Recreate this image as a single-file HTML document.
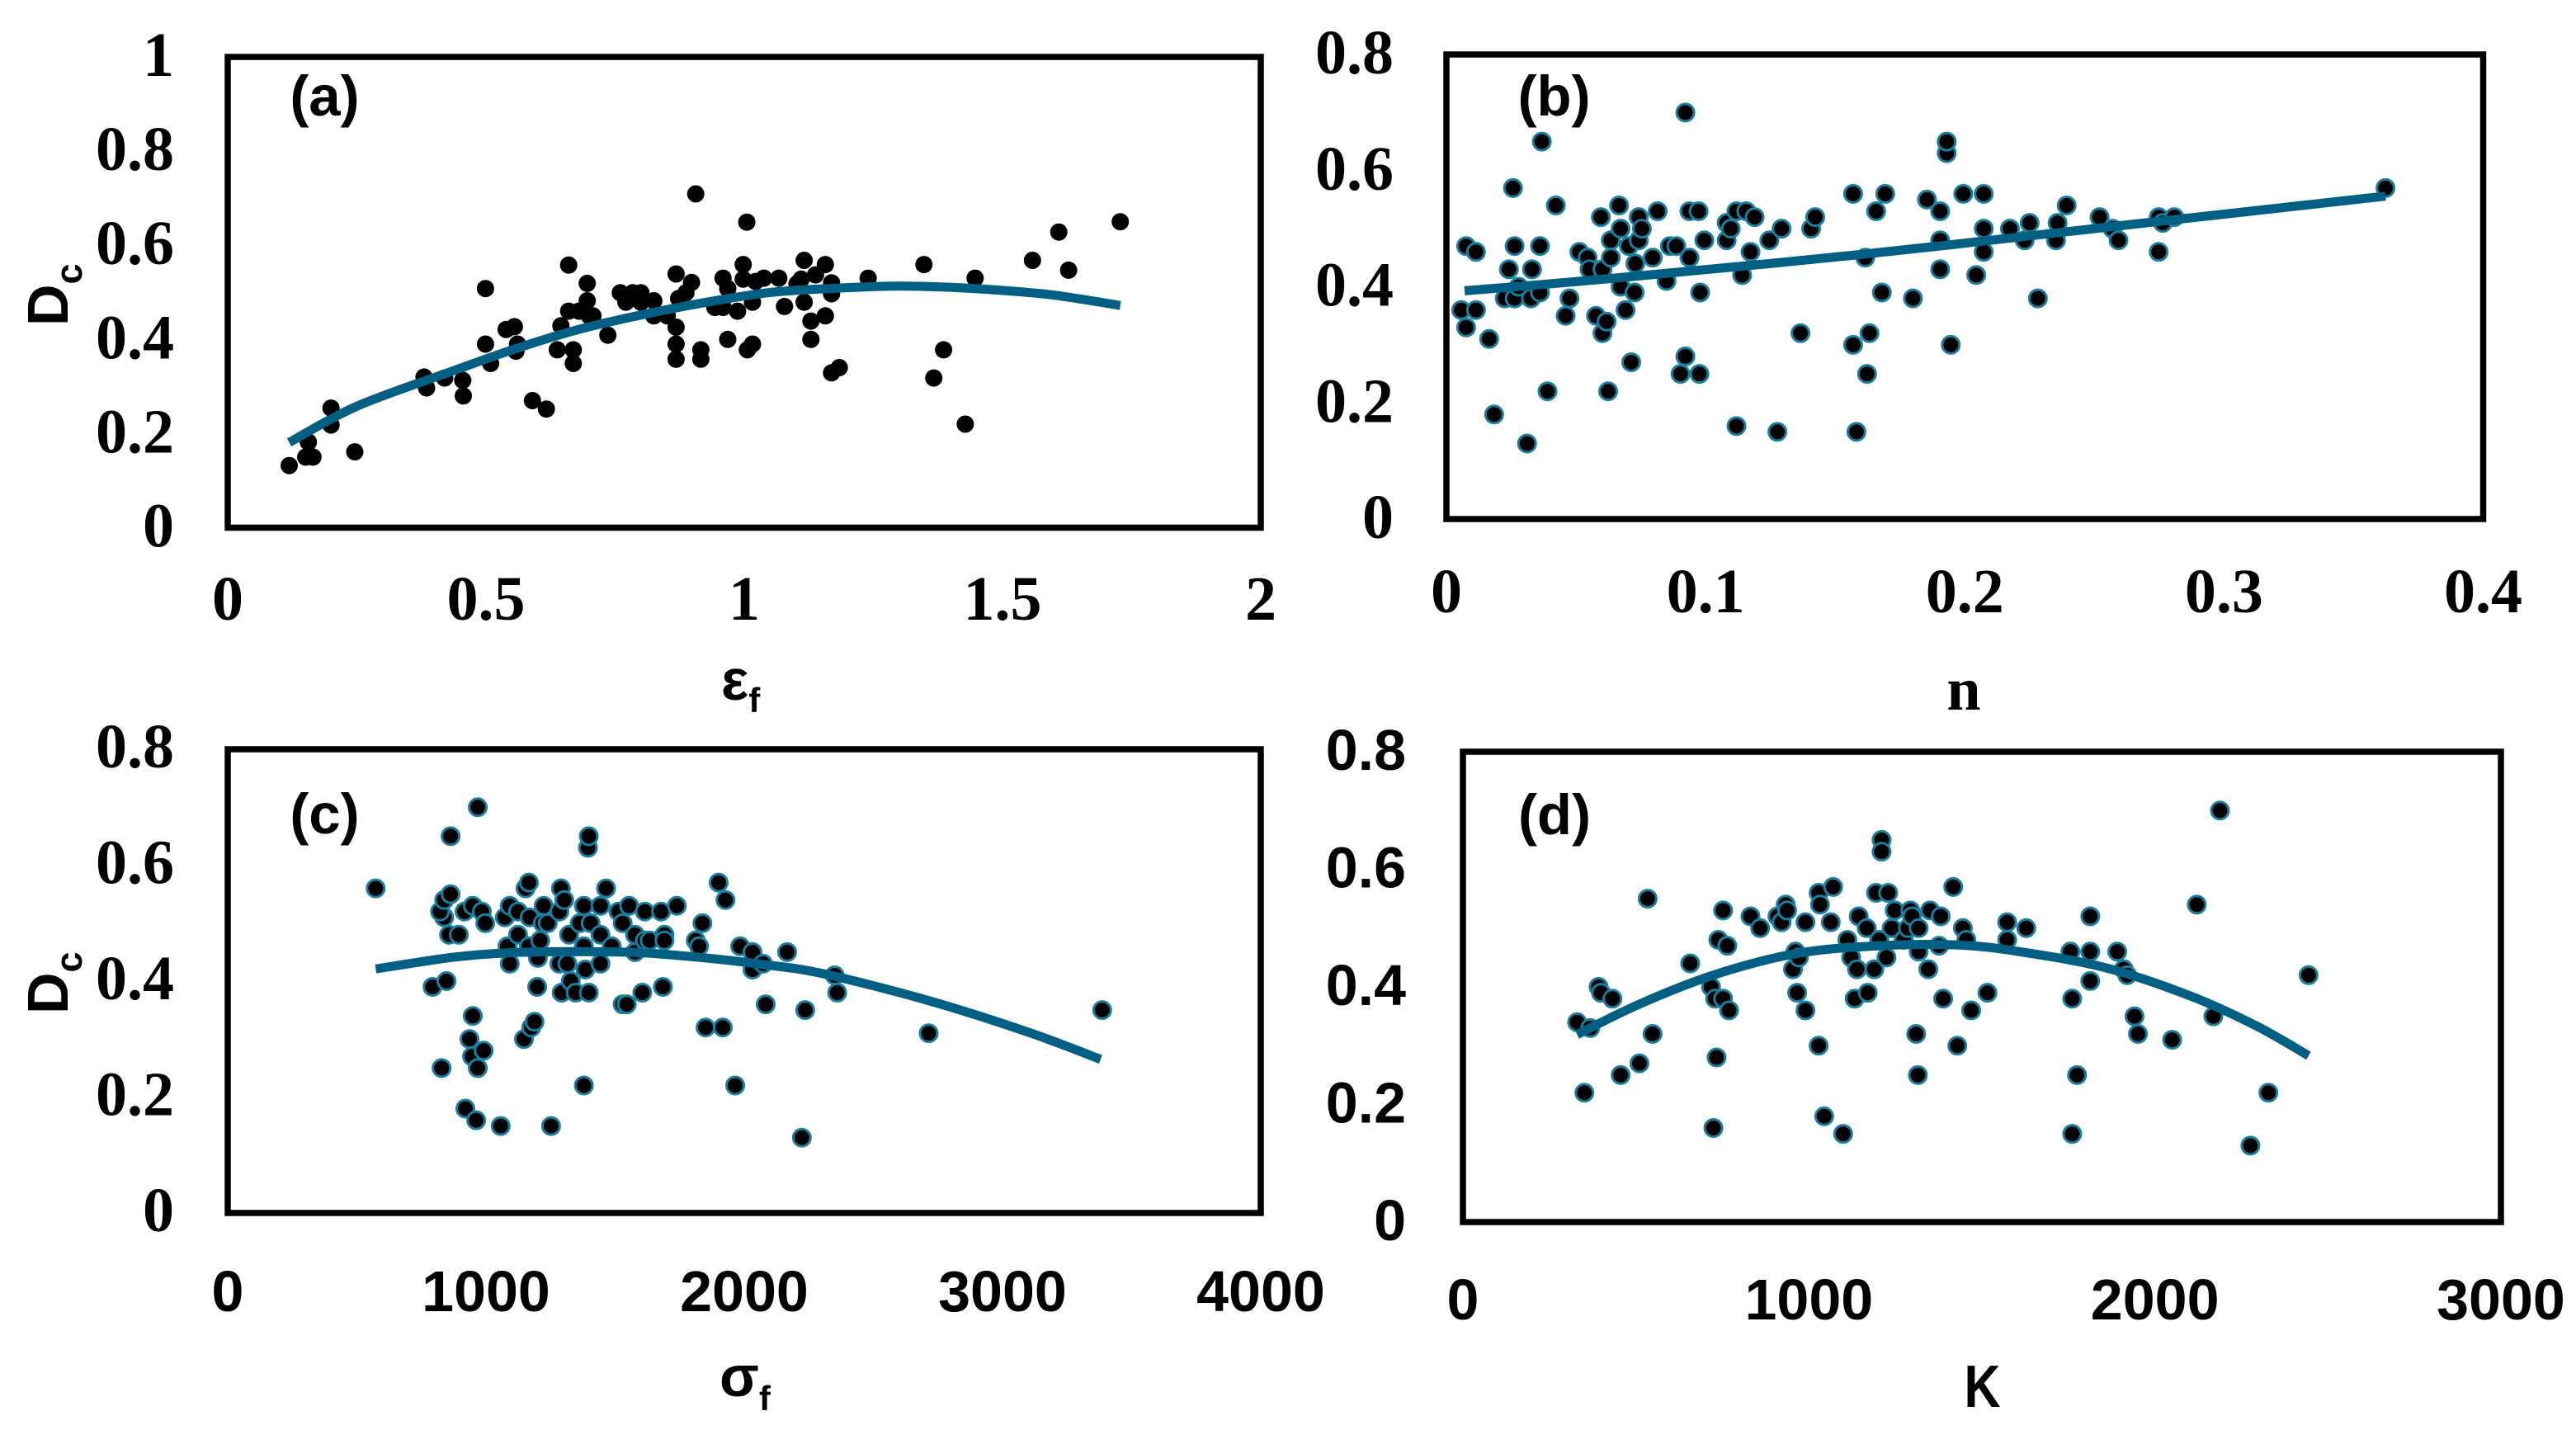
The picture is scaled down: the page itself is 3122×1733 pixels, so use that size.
<!DOCTYPE html>
<html lang="en">
<head>
<meta charset="utf-8">
<title>Dc versus material properties</title>
<style>
html,body{margin:0;padding:0;background:#fff;}
svg{display:block;}
.sans{font-family:"Liberation Sans",Arial,sans-serif;font-weight:700;fill:#000;}
.serif{font-family:"Liberation Serif","Times New Roman",serif;font-weight:700;fill:#000;}
</style>
</head>
<body>
<svg id="figure" xmlns="http://www.w3.org/2000/svg" width="3122" height="1733" viewBox="0 0 3122 1733">
  <rect x="0" y="0" width="3122" height="1733" fill="#fff"/>
  <g id="panel-a"></g>
  <g id="panel-b"></g>
  <g id="panel-c"></g>
  <g id="panel-d"></g>

  <text class="sans" x="393.5" y="140" font-size="69" text-anchor="middle">(a)</text>
  <text class="sans" x="1883.5" y="140" font-size="69" text-anchor="middle">(b)</text>
  <text class="sans" x="393.5" y="1010" font-size="69" text-anchor="middle">(c)</text>
  <text class="sans" x="1884" y="1011" font-size="69" text-anchor="middle">(d)</text>

  <text class="sans" transform="translate(82,395) rotate(-90)" font-size="70">D<tspan font-size="45" dy="17">c</tspan></text>
  <text class="sans" transform="translate(82,1229) rotate(-90)" font-size="70">D<tspan font-size="45" dy="17">c</tspan></text>

  <text class="sans" x="874" y="848" font-size="70">ε<tspan font-size="42" dy="15">f</tspan></text>
  <text class="serif" x="2380" y="860" font-size="74" text-anchor="middle">n</text>
  <text class="sans" x="872" y="1692" font-size="70">σ<tspan font-size="42" dy="17">f</tspan></text>
  <text class="sans" x="2402.5" y="1705" font-size="72" text-anchor="middle" textLength="44" lengthAdjust="spacingAndGlyphs">K</text>
</svg>

<script>
/* ---------- tick labels per panel ---------- */
const aXTicks = ['0', '0.5', '1', '1.5', '2'];
const aYTicks = ['0', '0.2', '0.4', '0.6', '0.8', '1'];
const bXTicks = ['0', '0.1', '0.2', '0.3', '0.4'];
const bYTicks = ['0', '0.2', '0.4', '0.6', '0.8'];
const cXTicks = ['0', '1000', '2000', '3000', '4000'];
const cYTicks = ['0', '0.2', '0.4', '0.6', '0.8'];
const dXTicks = ['0', '1000', '2000', '3000'];
const dYTicks = ['0', '0.2', '0.4', '0.6', '0.8'];

/* ---------- panel (a): Dc vs strain at fracture ---------- */
const aX = [.119,.156,.151,.165,.200,.200,.246,.380,.385,.420,.455,.456,.499,.509,.499,.539,.555,.561,.558,.590,.617,.638,.645,.660,.660,.669,.669,.680,.696,.696,.700,.707,.736,.760,.771,.784,.800,.800,.825,.825,.851,.868,.868,.868,.868,.873,.887,.898,.906,.916,.916,.943,.959,.959,.968,.968,.987,.998,.998,1.005,1.006,1.016,1.016,1.022,1.038,1.067,1.078,1.102,1.110,1.116,1.116,1.129,1.129,1.138,1.157,1.157,1.169,1.169,1.169,1.184,1.240,1.348,1.367,1.386,1.428,1.447,1.558,1.609,1.628,1.728];
const aY = [.132,.182,.150,.150,.254,.218,.161,.320,.297,.318,.313,.280,.390,.349,.508,.421,.427,.390,.375,.270,.252,.378,.429,.558,.460,.378,.349,.460,.519,.482,.450,.450,.409,.499,.479,.499,.499,.479,.482,.450,.450,.539,.426,.390,.358,.487,.499,.521,.709,.378,.358,.468,.530,.468,.400,.508,.460,.559,.528,.649,.378,.390,.479,.523,.530,.530,.470,.518,.528,.568,.479,.439,.400,.537,.559,.450,.520,.497,.329,.340,.530,.559,.318,.378,.220,.530,.568,.628,.547,.650];
const aTrendX = [.119,.25,.436,.557,.679,.801,.922,1.045,1.165,1.288,1.39,1.5,1.6,1.728];
const aTrendY = [.181,.258,.333,.380,.421,.452,.478,.499,.508,.513,.511,.504,.494,.472];

/* ---------- panel (b): Dc vs strain hardening exponent ---------- */
const bX = [.0057,.0076,.0076,.0114,.0114,.0165,.0184,.0225,.0241,.0257,.0263,.0263,.0279,.0311,.0326,.033,.0361,.0361,.0368,.039,.0422,.0475,.046,.0513,.0545,.0552,.0577,.0596,.0602,.0602,.0618,.0624,.0634,.0634,.0666,.0672,.0672,.0691,.0704,.0713,.0726,.0729,.0742,.0742,.0754,.0796,.0815,.0849,.0862,.0887,.0903,.0922,.0922,.0938,.0938,.0973,.0976,.0979,.0995,.1081,.1081,.1097,.1119,.1119,.1141,.1157,.1173,.1189,.1246,.1277,.1293,.1366,.1407,.1423,.1569,.1569,.1582,.1616,.1623,.1632,.1658,.168,.1693,.18,.1854,.1905,.1905,.1905,.193,.193,.1946,.1994,.2044,.2073,.2073,.2073,.2174,.2231,.225,.2282,.2352,.2358,.2393,.252,.257,.2593,.2748,.2748,.2764,.2808,.3623];
const bY = [.36,.33,.47,.46,.36,.31,.18,.38,.43,.57,.47,.38,.40,.13,.38,.43,.47,.39,.65,.22,.54,.38,.35,.46,.45,.43,.35,.52,.43,.32,.34,.22,.48,.45,.54,.50,.40,.36,.47,.27,.39,.44,.48,.52,.50,.45,.53,.41,.47,.47,.25,.70,.28,.45,.53,.53,.25,.39,.48,.48,.51,.50,.53,.16,.42,.53,.46,.52,.48,.15,.50,.32,.50,.52,.56,.30,.15,.45,.25,.32,.53,.39,.56,.38,.55,.43,.53,.48,.63,.65,.30,.56,.42,.56,.50,.46,.50,.48,.51,.38,.48,.51,.54,.52,.50,.48,.52,.46,.51,.52,.57];
const bTrendX = [.007,.0656,.1607,.2558,.3623];
const bTrendY = [.393,.415,.456,.503,.556];

/* ---------- panel (c): Dc vs fracture strength ---------- */
const cX = [573,793,828,838,822,847,838,863,863,857,895,917,936,920,949,949,946,962,968,968,984,991,997,1057,1073,1083,1092,1092,1124,1124,1147,1153,1166,1169,1166,1175,1188,1198,1201,1210,1223,1220,1239,1252,1284,1290,1284,1293,1303,1322,1315,1328,1347,1363,1379,1379,1379,1385,1395,1398,1398,1405,1443,1443,1443,1465,1487,1513,1529,1529,1545,1554,1577,1577,1605,1615,1615,1634,1678,1685,1691,1691,1739,1812,1825,1838,1850,1901,1917,1927,1965,1984,2032,2032,2073,2083,2166,2223,2236,2350,2360,2714,3386];
const cY = [.56,.39,.25,.51,.52,.40,.54,.65,.55,.48,.48,.52,.30,.18,.34,.53,.27,.16,.70,.25,.52,.28,.50,.15,.51,.46,.53,.43,.52,.48,.30,.56,.57,.51,.46,.32,.33,.39,.44,.47,.53,.50,.50,.15,.52,.56,.43,.38,.54,.48,.43,.40,.38,.50,.53,.46,.22,.42,.63,.65,.38,.50,.43,.53,.48,.56,.46,.52,.36,.50,.36,.53,.48,.45,.38,.52,.47,.47,.52,.39,.48,.47,.53,.47,.46,.50,.32,.57,.32,.54,.22,.46,.45,.42,.43,.36,.45,.13,.35,.41,.38,.31,.35];
const cTrendX = [573,870,1092,1347,1600,1825,2065,2303,2717,3099,3380];
const cTrendY = [.421,.441,.449,.451,.449,.441,.429,.413,.366,.312,.265];

/* ---------- panel (d): Dc vs strength coefficient ---------- */
const dX = [330,351,368,392,399,432,456,510,534,548,657,717,724,729,733,738,752,752,764,769,831,859,909,921,933,937,954,961,966,971,990,990,1028,1028,1032,1044,1063,1070,1099,1111,1122,1132,1139,1144,1167,1170,1189,1194,1203,1210,1210,1224,1229,1239,1248,1274,1286,1293,1298,1310,1315,1317,1317,1345,1350,1381,1376,1388,1417,1429,1445,1455,1469,1516,1573,1573,1628,1756,1761,1775,1761,1813,1813,1813,1891,1910,1920,1941,1951,2050,2121,2169,2188,2276,2328,2444];
const dY = [.34,.22,.33,.40,.39,.38,.25,.27,.55,.32,.44,.40,.16,.38,.28,.48,.53,.38,.47,.36,.52,.50,.52,.51,.54,.53,.43,.46,.39,.45,.36,.51,.30,.56,.54,.18,.51,.57,.15,.48,.45,.38,.43,.52,.50,.39,.43,.56,.48,.65,.63,.45,.56,.50,.53,.48,.50,.53,.52,.32,.25,.50,.46,.43,.53,.52,.47,.38,.57,.30,.50,.48,.36,.39,.51,.48,.50,.46,.38,.25,.15,.52,.46,.41,.46,.43,.42,.35,.32,.31,.54,.35,.70,.13,.22,.42];
const dTrendX = [330,515,729,966,1203,1440,1630,1868,2105,2295,2444];
const dTrendY = [.319,.372,.421,.457,.470,.471,.458,.431,.384,.333,.283];

const SVG_NS = 'http://www.w3.org/2000/svg';
const TEAL = '#005f82';

function smoothPath(pts) {
  let d = 'M' + pts[0][0].toFixed(1) + ' ' + pts[0][1].toFixed(1);
  for (let i = 0; i < pts.length - 1; i++) {
    const p0 = pts[Math.max(i - 1, 0)];
    const p1 = pts[i];
    const p2 = pts[i + 1];
    const p3 = pts[Math.min(i + 2, pts.length - 1)];
    const c1x = p1[0] + (p2[0] - p0[0]) / 6;
    const c1y = p1[1] + (p2[1] - p0[1]) / 6;
    const c2x = p2[0] - (p3[0] - p1[0]) / 6;
    const c2y = p2[1] - (p3[1] - p1[1]) / 6;
    d += ' C' + c1x.toFixed(1) + ' ' + c1y.toFixed(1) + ' ' + c2x.toFixed(1) + ' ' + c2y.toFixed(1) + ' ' + p2[0].toFixed(1) + ' ' + p2[1].toFixed(1);
  }
  return d;
}

function drawPanel(opt) {
  const g = document.getElementById(opt.id);
  const xScale = v => opt.left + (v - opt.xMin) / (opt.xMax - opt.xMin) * (opt.right - opt.left);
  const yScale = v => opt.bottom - (v - opt.yMin) / (opt.yMax - opt.yMin) * (opt.bottom - opt.top);

  const frame = document.createElementNS(SVG_NS, 'rect');
  
  
  frame.setAttribute('x', opt.left);
  frame.setAttribute('y', opt.top);
  frame.setAttribute('width', opt.right - opt.left);
  frame.setAttribute('height', opt.bottom - opt.top);
  frame.setAttribute('fill', 'none');
  frame.setAttribute('stroke', '#000');
  frame.setAttribute('stroke-width', '7.5');
  g.appendChild(frame);

  opt.xTicks.forEach(label => {
    const t = document.createElementNS(SVG_NS, 'text');
    
    
    t.setAttribute('class', opt.xFont);
    t.setAttribute('x', xScale(parseFloat(label)));
    t.setAttribute('y', opt.xLabelBaseline);
    t.setAttribute('font-size', opt.xFontSize);
    t.setAttribute('text-anchor', 'middle');
    t.textContent = label;
    g.appendChild(t);
  });

  opt.yTicks.forEach(label => {
    const t = document.createElementNS(SVG_NS, 'text');
    
    
    t.setAttribute('class', opt.yFont);
    t.setAttribute('x', opt.yLabelRight);
    t.setAttribute('y', yScale(parseFloat(label)) + opt.yLabelShift);
    t.setAttribute('font-size', opt.yFontSize);
    t.setAttribute('text-anchor', 'end');
    t.textContent = label;
    g.appendChild(t);
  });

  opt.xs.forEach((xVal, i) => {
    const c = document.createElementNS(SVG_NS, 'circle');
    
    
    c.setAttribute('cx', xScale(xVal).toFixed(1));
    c.setAttribute('cy', yScale(opt.ys[i]).toFixed(1));
    c.setAttribute('r', opt.dotR);
    c.setAttribute('fill', '#000');
    if (opt.dotStroke) {
      c.setAttribute('stroke', opt.dotStroke);
      c.setAttribute('stroke-width', '3');
    }
    g.appendChild(c);
  });

  const pts = opt.trendX.map((xVal, i) => [xScale(xVal), yScale(opt.trendY[i])]);
  const line = document.createElementNS(SVG_NS, 'path');
  
  
  line.setAttribute('d', smoothPath(pts));
  line.setAttribute('fill', 'none');
  line.setAttribute('stroke', TEAL);
  line.setAttribute('stroke-width', '11');
  line.setAttribute('stroke-linecap', 'butt');
  g.appendChild(line);
}

drawPanel({
  id: 'panel-a', left: 276, right: 1528, top: 69, bottom: 639.5,
  xMin: 0, xMax: 2, yMin: 0, yMax: 1,
  xs: aX, ys: aY, trendX: aTrendX, trendY: aTrendY,
  xTicks: aXTicks, yTicks: aYTicks,
  xFont: 'serif', yFont: 'serif', xFontSize: 76, yFontSize: 76,
  xLabelBaseline: 751, yLabelRight: 211, yLabelShift: 23,
  dotR: 10.5, dotStroke: null
});
drawPanel({
  id: 'panel-b', left: 1753, right: 3009.5, top: 66, bottom: 629,
  xMin: 0, xMax: 0.4, yMin: 0, yMax: 0.8,
  xs: bX, ys: bY, trendX: bTrendX, trendY: bTrendY,
  xTicks: bXTicks, yTicks: bYTicks,
  xFont: 'serif', yFont: 'serif', xFontSize: 76, yFontSize: 76,
  xLabelBaseline: 742, yLabelRight: 1689, yLabelShift: 23,
  dotR: 10.5, dotStroke: '#1a7f9f'
});
drawPanel({
  id: 'panel-c', left: 276, right: 1528, top: 908, bottom: 1470,
  xMin: 0, xMax: 4000, yMin: 0, yMax: 0.8,
  xs: cX, ys: cY, trendX: cTrendX, trendY: cTrendY,
  xTicks: cXTicks, yTicks: cYTicks,
  xFont: 'sans', yFont: 'serif', xFontSize: 70, yFontSize: 76,
  xLabelBaseline: 1589, yLabelRight: 211, yLabelShift: 22,
  dotR: 10.5, dotStroke: '#1a7f9f'
});
drawPanel({
  id: 'panel-d', left: 1773, right: 3031, top: 911, bottom: 1481,
  xMin: 0, xMax: 3000, yMin: 0, yMax: 0.8,
  xs: dX, ys: dY, trendX: dTrendX, trendY: dTrendY,
  xTicks: dXTicks, yTicks: dYTicks,
  xFont: 'sans', yFont: 'sans', xFontSize: 70, yFontSize: 70,
  xLabelBaseline: 1599, yLabelRight: 1704, yLabelShift: 22,
  dotR: 10.5, dotStroke: '#1a7f9f'
});
</script>
</body>
</html>
